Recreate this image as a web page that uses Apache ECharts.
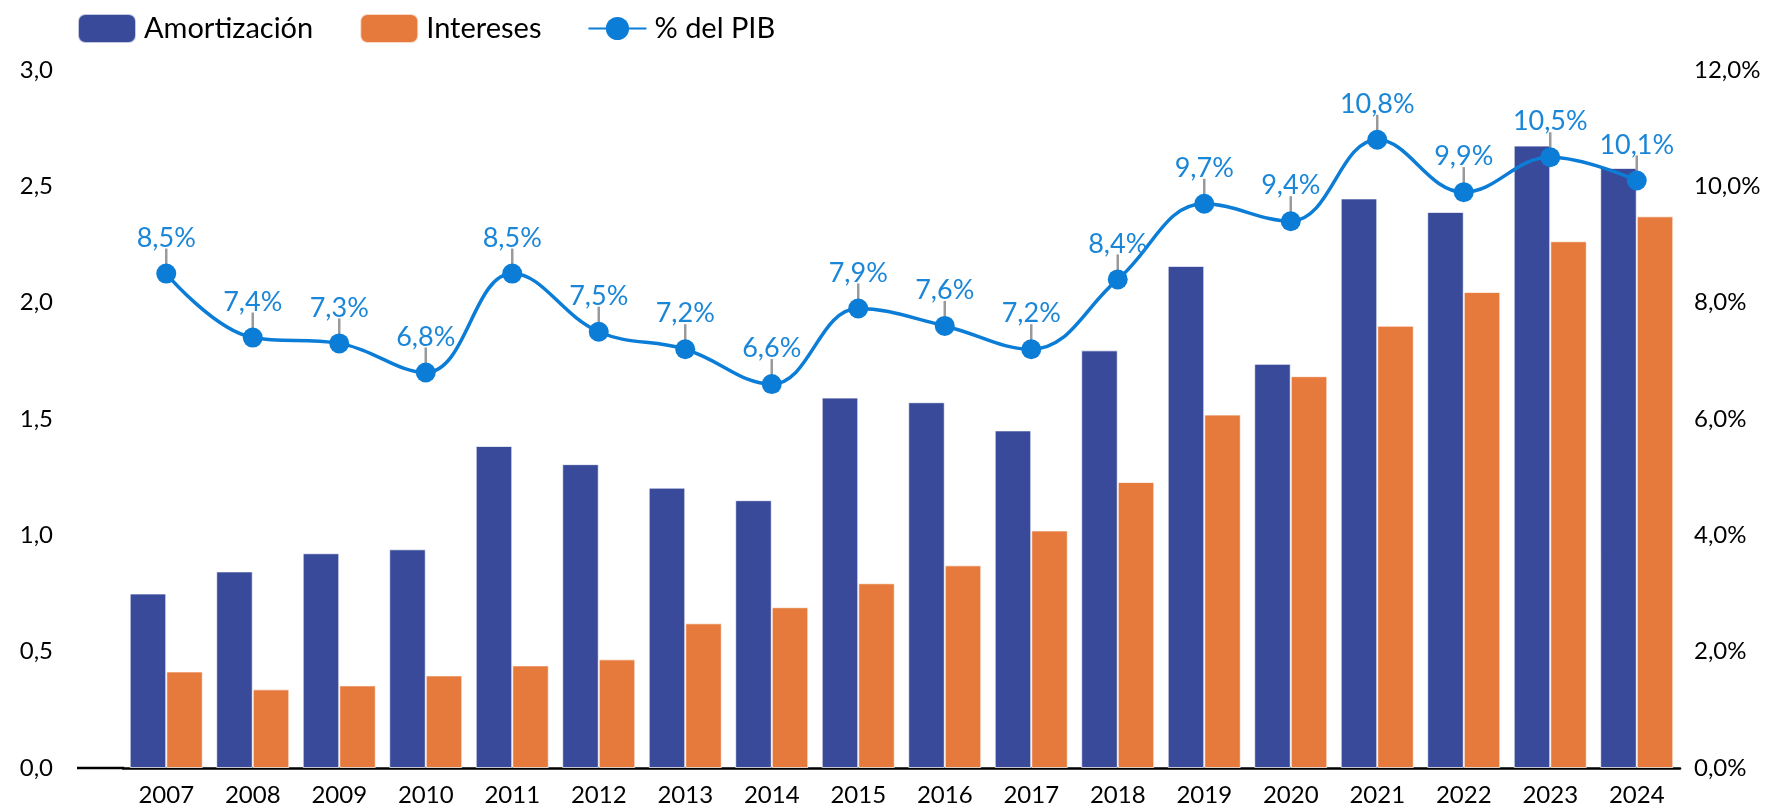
<!DOCTYPE html>
<html><head><meta charset="utf-8">
<script src="https://cdn.jsdelivr.net/npm/echarts@6/dist/echarts.min.js"></script>
<style>html,body{margin:0;padding:0;background:#fff}#c{width:1765px;height:808px}</style>
</head><body><div id="c"></div>
<script>
const years = ['2007','2008','2009','2010','2011','2012','2013','2014','2015','2016','2017','2018','2019','2020','2021','2022','2023','2024'];
const amortizacion = [0.75,0.845,0.923,0.94,1.384,1.306,1.205,1.151,1.592,1.572,1.451,1.795,2.158,1.737,2.448,2.39,2.675,2.579];
const intereses = [0.415,0.338,0.355,0.398,0.441,0.467,0.622,0.691,0.794,0.871,1.021,1.229,1.519,1.684,1.901,2.046,2.264,2.371];
const pib = [8.5,7.4,7.3,6.8,8.5,7.5,7.2,6.6,7.9,7.6,7.2,8.4,9.7,9.4,10.8,9.9,10.5,10.1];
const leftTicks = {min:0, max:3, interval:0.5};
const rightTicks = {min:0, max:12, interval:2};

const FONT = 'Lato';
const chart = echarts.init(document.getElementById('c'));
const comma = (v, d) => v.toFixed(d).replace('.', ',');
chart.setOption({
  animation:false,
  textStyle:{fontFamily:FONT},
  legend:{
    left:77, top:13, padding:0, itemWidth:58, itemHeight:29, itemGap:46,
    textStyle:{fontSize:29, color:'#000', fontFamily:FONT, padding:[0,0,0,3]},
    data:['Amortización','Intereses','% del PIB']
  },
  grid:{left:123, right:85, top:70, bottom:40},
  xAxis:{
    type:'category', data:years,
    axisLine:{lineStyle:{color:'#000', width:2.5}},
    axisTick:{show:false},
    axisLabel:{fontSize:24, color:'#000', margin:15, fontFamily:FONT}
  },
  yAxis:[{
    type:'value', min:leftTicks.min, max:leftTicks.max, interval:leftTicks.interval,
    splitLine:{show:false}, axisLine:{show:false}, axisTick:{show:false},
    axisLabel:{fontSize:24, color:'#000', margin:70, fontFamily:FONT, formatter:v=>comma(v,1)}
  },{
    type:'value', min:rightTicks.min, max:rightTicks.max, interval:rightTicks.interval,
    splitLine:{show:false}, axisLine:{show:false}, axisTick:{show:false},
    axisLabel:{fontSize:24, color:'#000', margin:14, fontFamily:FONT, formatter:v=>comma(v,1)+'%'}
  }],
  series:[{
    name:'Amortización', type:'bar', data:amortizacion,
    barGap:'0%', barCategoryGap:'15.5%',
    itemStyle:{color:'#394A9A', borderColor:'rgba(255,255,255,0.7)', borderWidth:1}
  },{
    name:'Intereses', type:'bar', data:intereses,
    itemStyle:{color:'#E67A3C', borderColor:'rgba(255,255,255,0.7)', borderWidth:1}
  },{
    name:'leaders', type:'custom', yAxisIndex:1, z:3,
    data:pib.map((v,i)=>[i,v]),
    renderItem:(params, api)=>{
      const p = api.coord([api.value(0), api.value(1)]);
      return {type:'line', shape:{x1:p[0], y1:p[1]-8, x2:p[0], y2:p[1]-25},
              style:{stroke:'#9a9a9a', lineWidth:2.5}};
    }
  },{
    name:'% del PIB', type:'line', yAxisIndex:1, data:pib, z:4,
    smooth:0.4, symbol:'circle', symbolSize:20,
    lineStyle:{color:'#0B7DD6', width:3.5},
    itemStyle:{color:'#0B7DD6'},
    label:{show:true, position:'top', distance:12, fontSize:27, color:'#1A86D8', fontFamily:FONT,
           formatter:p=>comma(p.value,1)+'%'}
  }]
});
// extend the category axis baseline to the left, as in the reference
const y0 = chart.convertToPixel({yAxisIndex:0}, 0);
const x0 = chart.convertToPixel({xAxisIndex:0}, 0) - 43;
chart.setOption({graphic:[{type:'line', shape:{x1:77, y1:y0, x2:x0+1, y2:y0}, style:{stroke:'#000', lineWidth:2.5}}]});
</script></body></html>
